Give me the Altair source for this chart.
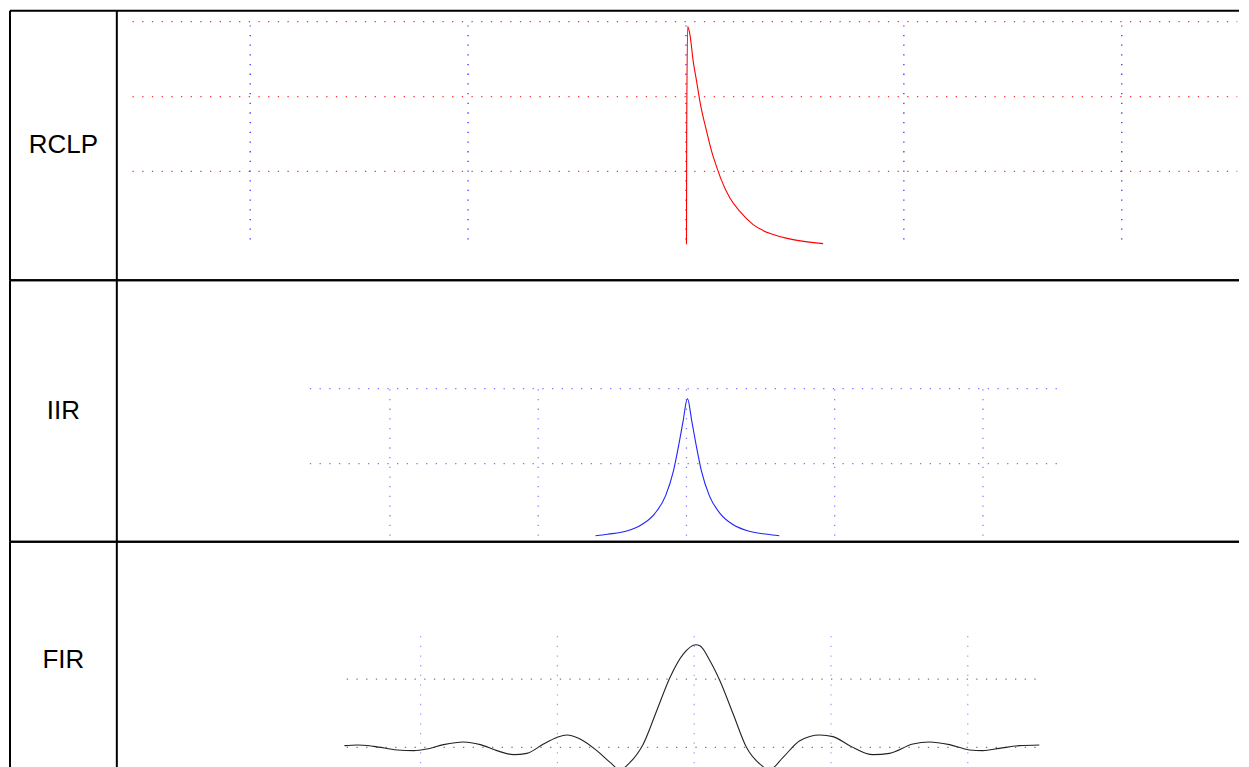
import altair as alt
import pandas as pd

# ---- text labels of the three rows ----
labels = ["RCLP", "IIR", "FIR"]

# ---- RCLP impulse response (t in grid divisions, v in grid divisions) ----
rclp_t = [0.0023, 0.0032, 0.0078, 0.0183, 0.0334, 0.0490, 0.0641, 0.0948, 0.1178,
          0.1480, 0.1590, 0.2016, 0.2474, 0.3084, 0.4000, 0.4916, 0.6291]
rclp_v = [0.027, 1.467, 2.933, 2.823, 2.467, 2.200, 1.933, 1.533, 1.267,
          1.000, 0.911, 0.644, 0.467, 0.289, 0.156, 0.089, 0.036]

# ---- IIR response ----
iir_t = [-0.613, -0.532, -0.397, -0.303, -0.215, -0.141, -0.0875, -0.0505, -0.0236, 0.0067,
         0.037, 0.064, 0.101, 0.155, 0.229, 0.316, 0.411, 0.545, 0.626]
iir_v = [0.036, 0.056, 0.103, 0.183, 0.329, 0.569, 0.903, 1.263, 1.556, 1.867,
         1.556, 1.263, 0.903, 0.569, 0.329, 0.183, 0.103, 0.056, 0.036]

# ---- FIR (windowed sinc) response ----
fir_t = [-2.557, -2.464, -2.343, -2.172, -2.051, -1.953, -1.832, -1.686, -1.564, -1.442,
         -1.321, -1.223, -1.102, -1.004, -0.931, -0.834, -0.712, -0.615, -0.542, -0.469,
         -0.372, -0.274, -0.177, -0.080, 0.012, 0.042, 0.115, 0.188, 0.285, 0.382,
         0.479, 0.552, 0.650, 0.772, 0.918, 1.015, 1.137, 1.307, 1.428, 1.599,
         1.720, 1.866, 2.012, 2.109, 2.231, 2.377, 2.523]
fir_v = [0.025, 0.035, 0.015, -0.038, -0.048, -0.023, 0.040, 0.079, 0.040, -0.048,
         -0.107, -0.088, 0.050, 0.146, 0.182, 0.123, -0.048, -0.220, -0.326, -0.220,
         0.050, 0.537, 1.025, 1.367, 1.504, 1.489, 1.270, 0.977, 0.489, 0.000,
         -0.243, -0.326, -0.146, 0.098, 0.182, 0.157, 0.025, -0.107, -0.088, 0.050,
         0.079, 0.040, -0.038, -0.048, -0.015, 0.025, 0.035]

# ---- grids ----
grid_t = [-2, -1, 0, 1, 2]          # vertical grid positions
grid_span = [-2.54, 2.53]           # extent of horizontal grid lines
rclp_hgrid = [1, 2, 3]
rclp_vspan = [0.09, 2.95]
iir_hgrid = [1, 2]
iir_vspan = [0.036, 2.04]
fir_hgrid = [0, 1]
fir_vspan = [-0.8, 1.733]

# ---- cell sizes / scale domains (layout) ----
LABEL_W = 107
PLOT_W = 1124
ROW_H = [270, 262, 236]
X_DOM = [[-2.612, 2.538], [-3.842, 3.727], [-4.221, 3.983]]
Y_DOM = [[-0.453, 3.147], [-0.044, 3.449], [-0.44, 3.012]]

EDGE = pd.DataFrame({"edge": ["line"]})


def hline(pos):
    return alt.Chart(EDGE).mark_rule(color="black", strokeWidth=2).encode(
        x=alt.value(0), x2=alt.value("width"), y=alt.value(pos))


def vline(pos):
    return alt.Chart(EDGE).mark_rule(color="black", strokeWidth=2).encode(
        x=alt.value(pos), y=alt.value(0), y2=alt.value("height"))


def plot_cell(idx, t, v, line_color, hgrid, hcolor, vspan, vcolor):
    xs = alt.Scale(domain=X_DOM[idx], nice=False, zero=False)
    ys = alt.Scale(domain=Y_DOM[idx], nice=False, zero=False)
    hdf = pd.DataFrame({"v": hgrid, "t0": grid_span[0], "t1": grid_span[1]})
    vdf = pd.DataFrame({"t": grid_t, "v0": vspan[0], "v1": vspan[1]})
    cdf = pd.DataFrame({"t": t, "v": v, "i": list(range(len(t)))})
    hg = alt.Chart(hdf).mark_rule(color=hcolor, strokeWidth=1.2, strokeDash=[1.3, 8.4]).encode(
        x=alt.X("t0:Q", scale=xs, axis=None), x2="t1:Q",
        y=alt.Y("v:Q", scale=ys, axis=None))
    vg = alt.Chart(vdf).mark_rule(color=vcolor, strokeWidth=1.2, strokeDash=[1.3, 8.4]).encode(
        x=alt.X("t:Q", scale=xs, axis=None),
        y=alt.Y("v0:Q", scale=ys, axis=None), y2="v1:Q")
    ln = alt.Chart(cdf).mark_line(color=line_color, strokeWidth=1.1, interpolate="monotone").encode(
        x=alt.X("t:Q", scale=xs, axis=None),
        y=alt.Y("v:Q", scale=ys, axis=None),
        order=alt.Order("i:Q"))
    return alt.layer(hg, vg, ln, hline(0), hline("height")).properties(
        width=PLOT_W, height=ROW_H[idx])


def label_cell(idx):
    df = pd.DataFrame({"label": [labels[idx]], "px": [0.5], "py": [0.5]})
    txt = alt.Chart(df).mark_text(fontSize=26, font="Liberation Sans", color="black",
                                  align="center", baseline="middle").encode(
        x=alt.X("px:Q", scale=alt.Scale(domain=[0, 1]), axis=None),
        y=alt.Y("py:Q", scale=alt.Scale(domain=[0, 1]), axis=None),
        text="label:N")
    return alt.layer(txt, hline(0), hline("height"), vline(0), vline("width")).properties(
        width=LABEL_W, height=ROW_H[idx])


cells = [
    label_cell(0),
    plot_cell(0, rclp_t, rclp_v, "#ff0000", rclp_hgrid, "#ff3333", rclp_vspan, "#2222ff"),
    label_cell(1),
    plot_cell(1, iir_t, iir_v, "#2222ff", iir_hgrid, "#7777ff", iir_vspan, "#7777ff"),
    label_cell(2),
    plot_cell(2, fir_t, fir_v, "#222222", fir_hgrid, "#777777", fir_vspan, "#9999ff"),
]

chart = alt.concat(*cells, columns=2, spacing=0, bounds="flush", align="each").properties(
    padding=0, background="white"
).configure_view(stroke="transparent")

chart.save("out.html", embed_options={"renderer": "svg", "actions": False})
